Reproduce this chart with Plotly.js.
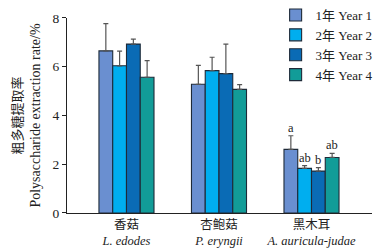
<!DOCTYPE html>
<html><head><meta charset="utf-8">
<script src="https://cdn.plot.ly/plotly-3.0.1.min.js"></script>
<style>html,body{margin:0;padding:0;background:#fff;}</style>
</head><body><div id="chart" style="width:389px;height:252px;"></div>
<script>
const categories = ['香菇<br><i>L. edodes</i>', '杏鲍菇<br><i>P. eryngii</i>', '黑木耳<br><i>A. auricula-judae</i>'];
const seriesNames = ['1年 Year 1', '2年 Year 2', '3年 Year 3', '4年 Year 4'];
const year1 = [6.65, 5.28, 2.61];
const year2 = [6.04, 5.84, 1.83];
const year3 = [6.93, 5.72, 1.72];
const year4 = [5.57, 5.07, 2.28];
const err1 = [1.12, 0.78, 0.56];
const err2 = [0.60, 0.55, 0.11];
const err3 = [0.20, 1.21, 0.14];
const err4 = [0.68, 0.20, 0.17];
const sigLetters = ['a', 'ab', 'b', 'ab'];
const colors = ['#6a8fd0', '#00aeef', '#0a6bb5', '#129c98'];

const vals = [year1, year2, year3, year4];
const errs = [err1, err2, err3, err4];
const traces = vals.map((v, i) => ({
  type: 'bar', x: categories, y: v, name: seriesNames[i],
  marker: {color: colors[i], line: {color: '#1e2a38', width: 1.1}},
  error_y: {type: 'data', array: errs[i], symmetric: false, arrayminus: errs[i].map(() => 0),
            color: '#555', thickness: 1.2, width: 2.5}
}));

const fontSerif = 'Liberation Serif, Noto Sans CJK SC, serif';
const groupWidth = 0.595;
const barW = groupWidth / 4;
const annotations = sigLetters.map((t, i) => ({
  x: 2 + (i - 1.5) * barW, y: vals[i][2] + errs[i][2], text: t, showarrow: false,
  yanchor: 'bottom', yshift: -1, font: {family: fontSerif, size: 12.5, color: '#222'}
}));

const layout = {
  width: 389, height: 252,
  margin: {l: 67, r: 17, t: 0, b: 39},
  paper_bgcolor: '#fff', plot_bgcolor: '#fff',
  barmode: 'group', bargap: 1 - groupWidth, bargroupgap: 0,
  font: {family: fontSerif, size: 12, color: '#222'},
  xaxis: {
    type: 'category', range: [-0.643, 2.654], showline: true, linecolor: '#222', linewidth: 1,
    ticks: '', showgrid: false, zeroline: false, tickfont: {family: fontSerif, size: 12.5, color: '#222'}
  },
  yaxis: {
    domain: [0, 0.9155],
    range: [0, 8], tickvals: [0, 2, 4, 6, 8], showline: true, linecolor: '#222', linewidth: 1,
    ticks: 'outside', ticklen: 4, tickcolor: '#222', showgrid: false, zeroline: false,
    tickfont: {family: fontSerif, size: 13.5, color: '#222'},
    title: {text: '<span style="font-size:13px">粗多糖提取率</span><br>Polysaccharide extraction rate/%', font: {family: fontSerif, size: 14, color: '#222'}, standoff: 8}
  },
  showlegend: true,
  legend: {x: 0.684, y: 1.0, xanchor: 'left', yanchor: 'top', bgcolor: 'rgba(0,0,0,0)',
           font: {family: fontSerif, size: 13, color: '#222'}, tracegroupgap: 0, itemwidth: 30},
  annotations: annotations
};
Plotly.newPlot('chart', traces, layout, {displayModeBar: false, staticPlot: true});
</script></body></html>
